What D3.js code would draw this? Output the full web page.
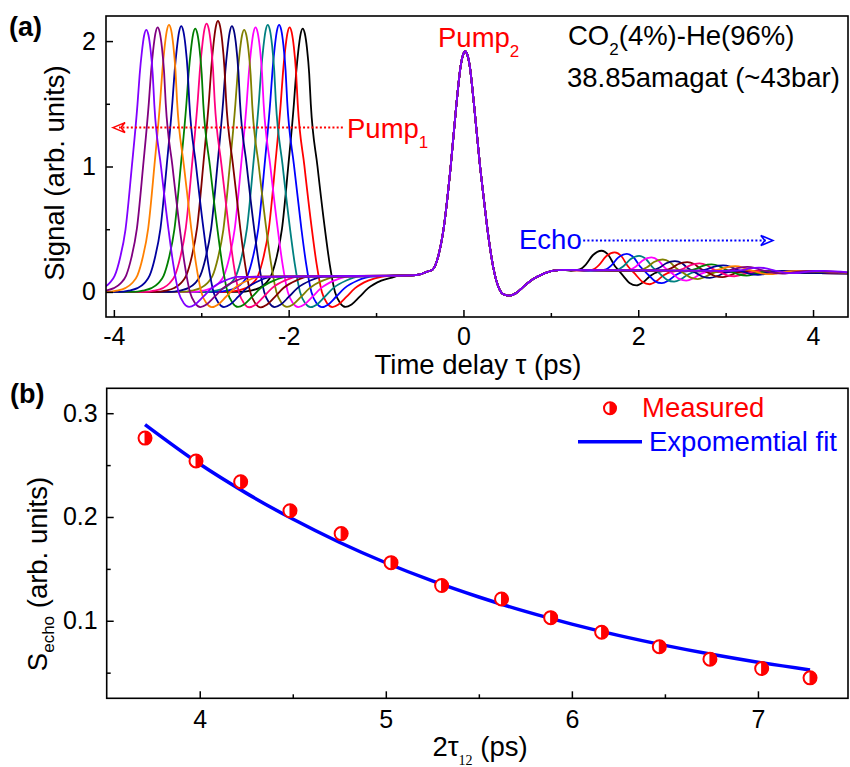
<!DOCTYPE html>
<html><head><meta charset="utf-8">
<script src="https://cdn.jsdelivr.net/npm/d3@7"></script>
<style>
body{margin:0;background:#fff}
svg text{font-family:"Liberation Sans",Arial,Helvetica,sans-serif}
</style>
</head><body>
<svg id="chart" width="850" height="767"></svg>
<script>
// ---------------- DATA ----------------
// 14 scans, ordered from earliest pump1 (violet) to latest pump1 (black)
const traceColors = ["#8000FF","#800080","#FF8000","#0000A0","#008000","#FF0080","#800000","#000080","#808000","#FF00FF","#008080","#0000FF","#FF0000","#000000"];
const pump1Peak   = [-3.63,-3.50,-3.37,-3.23,-3.07,-2.94,-2.81,-2.65,-2.51,-2.38,-2.24,-2.11,-1.99,-1.84];
const pump1Amp    = [2.09,2.11,2.13,2.12,2.10,2.14,2.16,2.12,2.09,2.11,2.13,2.13,2.11,2.10];
const echoCenter  = [3.58,3.45,3.31,3.17,3.04,2.90,2.76,2.62,2.48,2.35,2.21,2.07,1.93,1.78];
const echoAmp     = [0.045,0.054,0.063,0.075,0.089,0.103,0.121,0.134,0.156,0.184,0.206,0.234,0.254,0.276];

// pump1 pulse shape (time relative to peak, signal for a 2.1 peak)
const pump1ShapeT = [-0.70,-0.60,-0.50,-0.42,-0.36,-0.30,-0.237,-0.165,-0.10,-0.075,-0.05,-0.025,0,0.025,0.05,0.075,0.093,0.17,0.255,0.31,0.37,0.43,0.49,0.56,0.65,0.75,0.90,1.05];
const pump1ShapeV = [0,0.01,0.03,0.07,0.13,0.27,0.50,1.00,1.50,1.74,1.92,2.05,2.10,2.06,1.94,1.74,1.50,1.00,0.50,0.22,0.00,-0.09,-0.12,-0.10,-0.04,0.03,0.09,0.12];

// pump2 pulse (common to all scans), absolute delay
const pump2T = [-0.75,-0.60,-0.50,-0.42,-0.35,-0.29,-0.23,-0.146,-0.08,-0.03,0.0,0.02,0.04,0.07,0.12,0.19,0.24,0.28,0.34,0.40,0.46,0.53,0.60,0.70,0.78,0.90,1.03,1.15];
const pump2V = [0.13,0.132,0.14,0.16,0.18,0.28,0.49,1.00,1.50,1.81,1.90,1.92,1.90,1.81,1.50,1.00,0.70,0.47,0.20,0.04,-0.02,-0.03,-0.01,0.05,0.095,0.14,0.17,0.175];

// echo shape (time relative to echo centre, normalised to peak-to-peak)
const echoShapeT = [-0.55,-0.45,-0.38,-0.30,-0.20,-0.12,-0.05,0,0.05,0.12,0.20,0.28,0.36,0.45,0.55];
const echoShapeV = [0,0.04,0.18,0.45,0.58,0.45,0.15,0,-0.15,-0.35,-0.42,-0.32,-0.14,-0.03,0];
const echoBase = 0.168;
const tailT = [3.3,4.5];
const tailV = [0.155,0.148];

const tauTicks = [-4,-2,0,2,4];
const tauMinor = [-3,-1,1,3];
const signalTicks = [0,1,2];
const signalMinor = [0.5,1.5];

// panel (b)
const measuredX = [3.706,3.98,4.22,4.485,4.76,5.028,5.30,5.622,5.886,6.16,6.47,6.742,7.02,7.28];
const measuredY = [0.276,0.254,0.234,0.206,0.184,0.156,0.134,0.121,0.103,0.089,0.075,0.063,0.054,0.045];
const fitX = [3.706,4.0,4.25,4.5,4.75,5.0,5.25,5.5,5.75,6.0,6.25,6.5,6.75,7.0,7.28];
const fitY = [0.289,0.251,0.223,0.198,0.1757,0.1559,0.1384,0.1229,0.109,0.0968,0.0859,0.0763,0.0677,0.0601,0.0526];
const delayTicks = [4,5,6,7];
const delayMinor = [4.5,5.5,6.5];
const echoTicks = [0.1,0.2,0.3];
const echoMinor = [0.05,0.15,0.25];

// ---------------- DRAW ----------------
const svg = d3.select("#chart");
const tickFont = 25, titleFont = 27.5, annFont = 27.5;
const plainFmt = d => String(d);

// ===== panel (a) =====
const A = {l:106, r:848, t:16, b:317};
const xa = d3.scaleLinear().domain([-4.09,4.40]).range([A.l,A.r]);
const ya = d3.scaleLinear().domain([-0.2,2.2]).range([A.b,A.t]);

svg.append("clipPath").attr("id","clipA").append("rect")
  .attr("x",A.l).attr("y",A.t).attr("width",A.r-A.l).attr("height",A.b-A.t);

function tracePoints(i){
  const pts = [[-4.4,0]];
  const s = pump1Amp[i]/2.1;
  pump1ShapeT.forEach((dt,k)=>pts.push([pump1Peak[i]+dt, pump1ShapeV[k]*s]));
  let last = pts[pts.length-1][0];
  pump2T.forEach((t,k)=>{ if(t>last+0.02) pts.push([t,pump2V[k]]); });
  last = pts[pts.length-1][0];
  echoShapeT.forEach((dt,k)=>{ const t=echoCenter[i]+dt; if(t>last+0.01) pts.push([t, echoBase+echoAmp[i]*echoShapeV[k]]); });
  last = pts[pts.length-1][0];
  tailT.forEach((t,k)=>{ if(t>last+0.05) pts.push([t,tailV[k]]); });
  return pts;
}
const lineA = d3.line().x(d=>xa(d[0])).y(d=>ya(d[1])).curve(d3.curveMonotoneX);
const gTr = svg.append("g").attr("clip-path","url(#clipA)");
for(let i=traceColors.length-1;i>=0;i--){
  gTr.append("path").attr("d",lineA(tracePoints(i)))
    .attr("fill","none").attr("stroke",traceColors[i]).attr("stroke-width",1.8);
}

// axes (a)
function styleAxis(g, size){
  g.select(".domain").remove();
  g.selectAll("line").attr("stroke","#000").attr("stroke-width",1.5);
  g.selectAll("text").attr("font-size",size).attr("fill","#000")
    .attr("font-family","'Liberation Sans',Arial,sans-serif");
}
svg.append("g").attr("transform",`translate(0,${A.b})`)
  .call(d3.axisBottom(xa).tickValues(tauTicks).tickSize(-7).tickPadding(10.5).tickFormat(plainFmt))
  .call(g=>styleAxis(g,tickFont));
svg.append("g").attr("transform",`translate(0,${A.b})`)
  .call(d3.axisBottom(xa).tickValues(tauMinor).tickSize(-4).tickFormat(""))
  .call(g=>styleAxis(g,tickFont));
svg.append("g").attr("transform",`translate(${A.l},0)`)
  .call(d3.axisLeft(ya).tickValues(signalTicks).tickSize(-7).tickPadding(10).tickFormat(plainFmt))
  .call(g=>styleAxis(g,tickFont));
svg.append("g").attr("transform",`translate(${A.l},0)`)
  .call(d3.axisLeft(ya).tickValues(signalMinor).tickSize(-4).tickFormat(""))
  .call(g=>styleAxis(g,tickFont));
svg.append("rect").attr("x",A.l).attr("y",A.t).attr("width",A.r-A.l).attr("height",A.b-A.t)
  .attr("fill","none").attr("stroke","#000").attr("stroke-width",1.6);

// titles (a)
svg.append("text").attr("x",478).attr("y",374).attr("text-anchor","middle")
  .attr("font-size",titleFont).text("Time delay τ (ps)");
svg.append("text").attr("transform","translate(64,173) rotate(-90)").attr("text-anchor","middle")
  .attr("font-size",titleFont).text("Signal (arb. units)");
svg.append("text").attr("x",9).attr("y",36).attr("font-size",27).attr("font-weight","bold").text("(a)");

// annotations (a)
function subText(x,y,main,sub,color,size,subSize,dy,after){
  const t = svg.append("text").attr("x",x).attr("y",y).attr("font-size",size).attr("fill",color);
  t.append("tspan").text(main);
  t.append("tspan").attr("font-size",subSize).attr("dy",dy).text(sub);
  if(after) t.append("tspan").attr("dy",-dy).text(after);
  return t;
}
subText(438,46.7,"Pump","2","#FF0000",annFont,17,10);
subText(347,138.3,"Pump","1","#FF0000",annFont,17,10);
subText(568,45,"CO","2","#000",annFont,17,10,"(4%)-He(96%)");
svg.append("text").attr("x",567).attr("y",87).attr("font-size",annFont).text("38.85amagat (~43bar)");
svg.append("text").attr("x",519).attr("y",249.3).attr("font-size",annFont).attr("fill","#0000FF").text("Echo");

function dottedArrow(x1,x2,yv,color){
  const y = ya(yv), p1 = xa(x1), p2 = xa(x2), dir = Math.sign(p2-p1);
  svg.append("line").attr("x1",p1).attr("x2",p2-dir*6).attr("y1",y).attr("y2",y)
    .attr("stroke",color).attr("stroke-width",2).attr("stroke-dasharray","2,2.2");
  svg.append("path")
    .attr("d",`M${p2},${y} L${p2-dir*12},${y-5} L${p2-dir*8},${y} L${p2-dir*12},${y+5} Z`)
    .attr("fill","none").attr("stroke",color).attr("stroke-width",1.6);
}
dottedArrow(-1.38,-4.01,1.31,"#FF0000");
dottedArrow(1.37,3.54,0.41,"#0000FF");

// ===== panel (b) =====
const B = {l:106.7, r:848, t:388.3, b:698.3};
const xb = d3.scaleLinear().domain([3.5,7.484]).range([B.l,B.r]);
const yb = d3.scaleLinear().domain([0.0253,0.324]).range([B.b,B.t]);

svg.append("g").attr("transform",`translate(0,${B.b})`)
  .call(d3.axisBottom(xb).tickValues(delayTicks).tickSize(-7).tickPadding(12.3).tickFormat(plainFmt))
  .call(g=>styleAxis(g,tickFont));
svg.append("g").attr("transform",`translate(0,${B.b})`)
  .call(d3.axisBottom(xb).tickValues(delayMinor).tickSize(-4).tickFormat(""))
  .call(g=>styleAxis(g,tickFont));
svg.append("g").attr("transform",`translate(${B.l},0)`)
  .call(d3.axisLeft(yb).tickValues(echoTicks).tickSize(-7).tickPadding(9).tickFormat(d3.format(".1f")))
  .call(g=>styleAxis(g,tickFont));
svg.append("g").attr("transform",`translate(${B.l},0)`)
  .call(d3.axisLeft(yb).tickValues(echoMinor).tickSize(-4).tickFormat(""))
  .call(g=>styleAxis(g,tickFont));
svg.append("rect").attr("x",B.l).attr("y",B.t).attr("width",B.r-B.l).attr("height",B.b-B.t)
  .attr("fill","none").attr("stroke","#000").attr("stroke-width",1.6);

// fit line
const lineB = d3.line().x((d,i)=>xb(fitX[i])).y((d,i)=>yb(fitY[i])).curve(d3.curveMonotoneX);
svg.append("path").attr("d",lineB(fitX)).attr("fill","none").attr("stroke","#0000FF").attr("stroke-width",3.5);

// half-filled markers
function halfMarker(g,cx,cy,r){
  g.append("circle").attr("cx",cx).attr("cy",cy).attr("r",r).attr("fill","#fff").attr("stroke","#FF0000").attr("stroke-width",2);
  g.append("path").attr("d",`M${cx},${cy-r} A${r},${r} 0 0 1 ${cx},${cy+r} Z`).attr("fill","#FF0000").attr("stroke","#FF0000").attr("stroke-width",1);
}
const gm = svg.append("g");
measuredX.forEach((x,i)=>halfMarker(gm,xb(x),yb(measuredY[i]),6.5));

// legend (b)
halfMarker(svg.append("g"),610,408.3,6);
svg.append("text").attr("x",642).attr("y",416.7).attr("font-size",annFont).attr("fill","#FF0000").text("Measured");
svg.append("line").attr("x1",578).attr("x2",642).attr("y1",441.7).attr("y2",441.7).attr("stroke","#0000FF").attr("stroke-width",3.5);
svg.append("text").attr("x",649).attr("y",451).attr("font-size",annFont).attr("fill","#0000FF").text("Expomemtial fit");

// titles (b)
const xt = svg.append("text").attr("x",480).attr("y",755.7).attr("text-anchor","middle").attr("font-size",titleFont);
xt.append("tspan").text("2τ");
xt.append("tspan").attr("font-size",14).attr("dy",9).attr("font-family","'Liberation Serif','Times New Roman',serif").text("12");
xt.append("tspan").attr("dy",-9).text(" (ps)");
const yt = svg.append("text").attr("transform","translate(47,574) rotate(-90)").attr("text-anchor","middle").attr("font-size",titleFont);
yt.append("tspan").text("S");
yt.append("tspan").attr("font-size",17).attr("dy",7).text("echo");
yt.append("tspan").attr("dy",-7).text(" (arb. units)");
svg.append("text").attr("x",10).attr("y",403).attr("font-size",27).attr("font-weight","bold").text("(b)");
</script>
</body></html>
